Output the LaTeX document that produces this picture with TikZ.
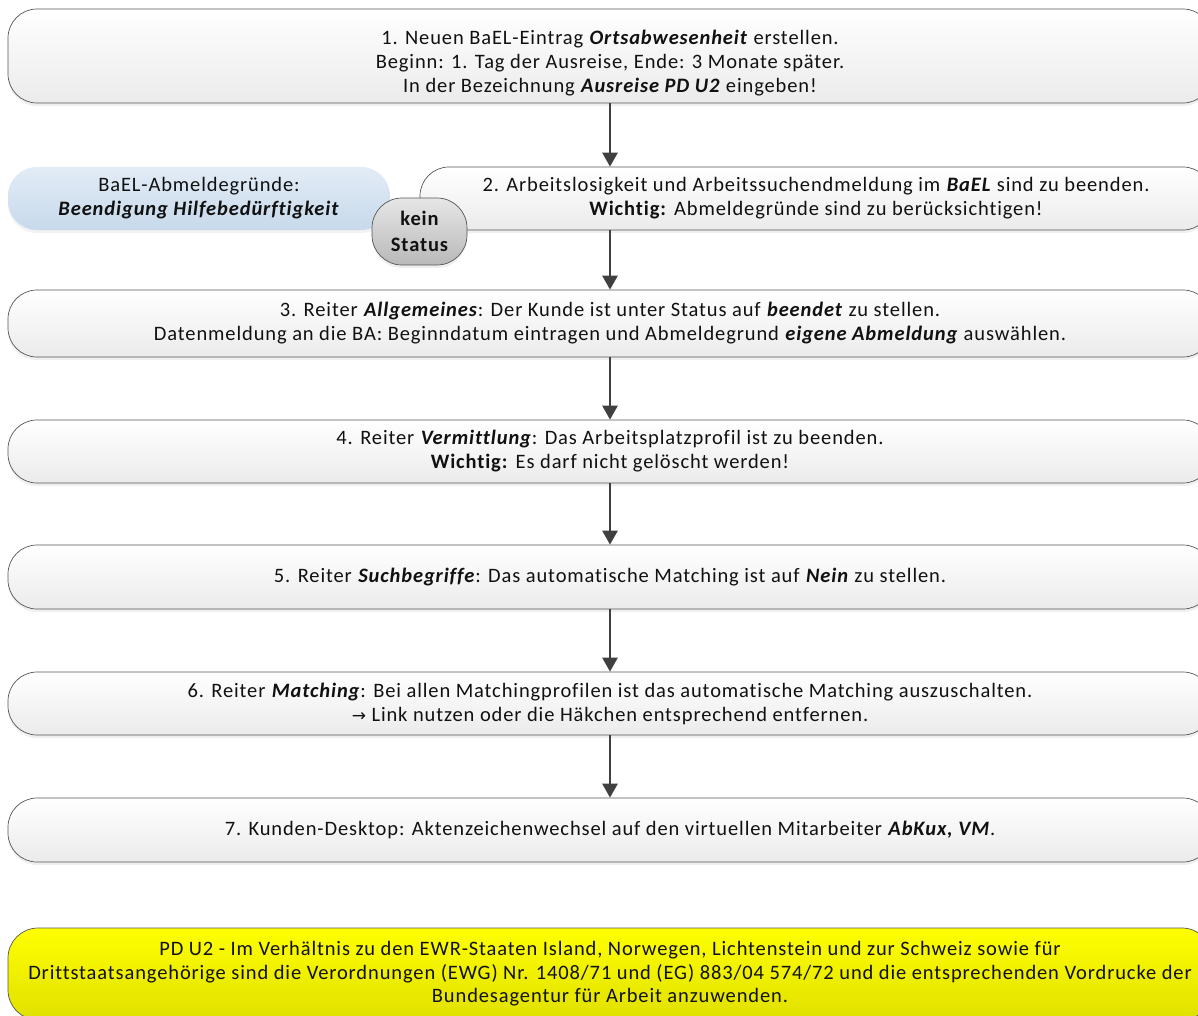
\documentclass[tikz,border=0pt]{standalone}
\usepackage{fontspec}
\setmainfont{Carlito}[LetterSpace=4.3,Ligatures=NoCommon]
\newfontfamily\symfont{DejaVu Sans}
\usetikzlibrary{arrows.meta,shadows}
\definecolor{bordergray}{HTML}{555555}
\definecolor{arrowgray}{HTML}{404040}
\definecolor{boxbottom}{HTML}{EBEBEB}
\definecolor{bluetop}{HTML}{E2ECF6}
\definecolor{bluebottom}{HTML}{C7D9EB}
\definecolor{greytop}{HTML}{E6E6E6}
\definecolor{greybottom}{HTML}{B9B9B9}
\definecolor{yeltop}{HTML}{FFFF00}
\definecolor{yelbottom}{HTML}{E0E000}
\definecolor{txt}{HTML}{111111}
\tikzset{
  stepbox/.style={rounded corners=29pt, draw=bordergray, line width=0.7pt,
    top color=white, bottom color=boxbottom, align=center, text=txt,
    inner sep=0pt, font=\fontsize{20.5}{24}\selectfont,
    drop shadow={shadow xshift=0pt, shadow yshift=-3pt, opacity=0.12}},
  boxtext/.style={align=center, text=txt, inner sep=0pt,
    font=\fontsize{20.5}{24}\selectfont},
  bluebox/.style={rounded corners=29pt, draw=none,
    top color=bluetop, bottom color=bluebottom, align=center, text=txt,
    inner sep=0pt, font=\fontsize{20.5}{24}\selectfont,
    drop shadow={shadow xshift=0pt, shadow yshift=-3pt, opacity=0.10}},
  greybox/.style={rounded corners=30pt, draw=bordergray, line width=0.7pt,
    top color=greytop, bottom color=greybottom, align=center, text=txt,
    inner sep=0pt, font=\fontsize{20.5}{26}\selectfont\bfseries,
    drop shadow={shadow xshift=0pt, shadow yshift=-3pt, opacity=0.12}},
  notebox/.style={rounded corners=30pt, draw=bordergray, line width=0.7pt,
    top color=yeltop, bottom color=yelbottom, align=center, text=txt,
    inner sep=0pt, font=\fontsize{20.5}{23.5}\selectfont},
  arr/.style={draw=arrowgray, line width=2.6pt,
    -{Triangle[length=14pt,width=15pt]}},
}
\newcommand{\bi}[1]{\textbf{\textit{#1}}}
\begin{document}
\begin{tikzpicture}[x=1pt,y=-1pt]
\useasboundingbox (0,0) rectangle (1198,1015);
\fill[white] (0,0) rectangle (1198,1015);

\node[stepbox, minimum width=1204pt, minimum height=94pt] (b1) at (610,56) {};
\node[boxtext] (b1t) at (610,63)
  {1. Neuen BaEL-Eintrag \bi{Ortsabwesenheit} erstellen.\\
   Beginn: 1. Tag der Ausreise, Ende: 3 Monate später.\\
   In der Bezeichnung \bi{Ausreise PD U2} eingeben!};

\node[bluebox, minimum width=382pt, minimum height=63pt] (blue) at (199,198.5)
  {BaEL-Abmeldegründe:\\ \bi{Beendigung Hilfebedürftigkeit}};

\node[stepbox, minimum width=792pt, minimum height=63pt] (b2) at (816,198.5)
  {2. Arbeitslosigkeit und Arbeitssuchendmeldung im \bi{BaEL} sind zu beenden.\\
   \textbf{Wichtig:} Abmeldegründe sind zu berücksichtigen!};

\node[greybox, minimum width=95pt, minimum height=67pt] (ks) at (419.5,231.5)
  {kein\\Status};

\node[stepbox, minimum width=1204pt, minimum height=67pt] (b3) at (610,323.5)
  {3. Reiter \bi{Allgemeines}: Der Kunde ist unter Status auf \bi{beendet} zu stellen.\\
   Datenmeldung an die BA: Beginndatum eintragen und Abmeldegrund \bi{eigene Abmeldung} auswählen.};

\node[stepbox, minimum width=1204pt, minimum height=63pt] (b4) at (610,451.5)
  {4. Reiter \bi{Vermittlung}: Das Arbeitsplatzprofil ist zu beenden.\\
   \textbf{Wichtig:} Es darf nicht gelöscht werden!};

\node[stepbox, minimum width=1204pt, minimum height=64pt] (b5) at (610,577)
  {5. Reiter \bi{Suchbegriffe}: Das automatische Matching ist auf \bi{Nein} zu stellen.};

\node[stepbox, minimum width=1204pt, minimum height=63pt] (b6) at (610,703.5)
  {6. Reiter \bi{Matching}: Bei allen Matchingprofilen ist das automatische Matching auszuschalten.\\
   {\symfont\fontsize{17}{24}\selectfont →} Link nutzen oder die Häkchen entsprechend entfernen.};

\node[stepbox, minimum width=1204pt, minimum height=64pt] (b7) at (610,830)
  {7. Kunden-Desktop: Aktenzeichenwechsel auf den virtuellen Mitarbeiter \bi{AbKux, VM}.};

\node[notebox, minimum width=1204pt, minimum height=92pt] (note) at (610,974)
  {PD U2 - Im Verhältnis zu den EWR-Staaten Island, Norwegen, Lichtenstein und zur Schweiz sowie für\\
   Drittstaatsangehörige sind die Verordnungen (EWG) Nr. 1408/71 und (EG) 883/04 574/72 und die entsprechenden Vordrucke der\\
   Bundesagentur für Arbeit anzuwenden.};

\draw[arr] (b1.south) -- (b1.south |- b2.north);
\draw[arr] (b1.south |- b2.south) -- (b3.north);
\draw[arr] (b3.south) -- (b4.north);
\draw[arr] (b4.south) -- (b5.north);
\draw[arr] (b5.south) -- (b6.north);
\draw[arr] (b6.south) -- (b7.north);
\end{tikzpicture}
\end{document}
